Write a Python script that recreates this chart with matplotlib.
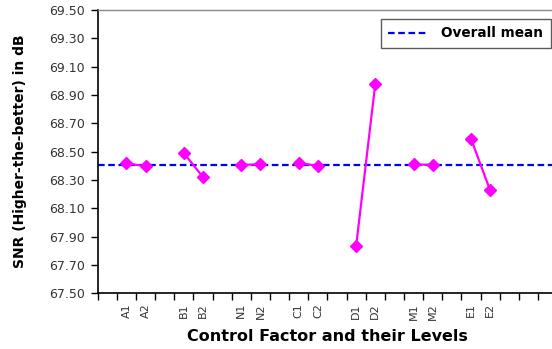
import matplotlib
matplotlib.use("Agg")
import matplotlib.pyplot as plt
import numpy as np

plt.rcParams['font.family'] = ['DejaVu Sans']

# Data
factors = ["A", "B", "N", "C", "D", "M", "E"]
level1 = [68.417, 68.490, 68.407, 68.420, 67.835, 68.410, 68.590]
level2 = [68.398, 68.320, 68.410, 68.400, 68.980, 68.407, 68.226]
overall_mean = 68.407
yticks = [67.50, 67.70, 67.90, 68.10, 68.30, 68.50, 68.70, 68.90, 69.10, 69.30, 69.50]

W, H = 552, 349
L, R, T, B = 97.7, 557.2, 10, 293.3
fig = plt.figure(figsize=(W/100, H/100), dpi=100)
ax = fig.add_axes([L/W, 1-B/H, (R-L)/W, (B-T)/H])

tick_pos = []
tick_lab = []
for i, f in enumerate(factors):
    x1 = 1 + 3*i
    x2 = x1 + 1
    ax.plot([x1, x2], [level1[i], level2[i]], color='#ff00ff', lw=1.6,
            marker='D', ms=6, mec='#ff00ff', mfc='#ff00ff', zorder=3)
    tick_pos += [x1, x2]
    tick_lab += [f + "1", f + "2"]

ax.axhline(overall_mean, color='#0000ff', lw=1.6, ls=(0, (3, 1.6)),
           label='Overall mean', zorder=2)

ax.set_xlim(-0.5, 23.4)
ax.set_ylim(67.5, 69.5)
ax.set_yticks(yticks)
ax.set_yticklabels([f"{v:.2f}" for v in yticks], fontsize=9, color='#333333')
ax.set_xticks(tick_pos)
ax.set_xticklabels(tick_lab, rotation=90, fontsize=8, color='#333333')
ax.set_xticks(np.arange(-0.5, 24, 1), minor=True)
ax.tick_params(axis='x', which='major', length=0, pad=7)
ax.tick_params(axis='x', which='minor', length=5, width=1, color='black', direction='out')
ax.tick_params(axis='y', which='major', length=5, width=1, color='black', direction='out', pad=4)

for s in ['left', 'bottom']:
    ax.spines[s].set_color('black')
    ax.spines[s].set_linewidth(1.2)
ax.spines['top'].set_color('#888888')
ax.spines['top'].set_linewidth(1)
ax.spines['right'].set_visible(False)

ax.set_ylabel('SNR (Higher-the-better) in dB', fontsize=10, fontweight='bold', labelpad=16)
ax.set_xlabel('Control Factor and their Levels', fontsize=11.5, fontweight='bold', labelpad=7)

leg = ax.legend(loc='upper right',
                bbox_to_anchor=((550.7-L)/(R-L), (B-19)/(B-T)),
                borderaxespad=0,
                prop={'weight': 'bold', 'size': 9.8}, frameon=True, fancybox=False,
                handlelength=2.8, borderpad=0.55, handletextpad=1.1)
leg.get_frame().set_edgecolor('#333333')
leg.get_frame().set_linewidth(1)

fig.savefig('out.png', dpi=100)
